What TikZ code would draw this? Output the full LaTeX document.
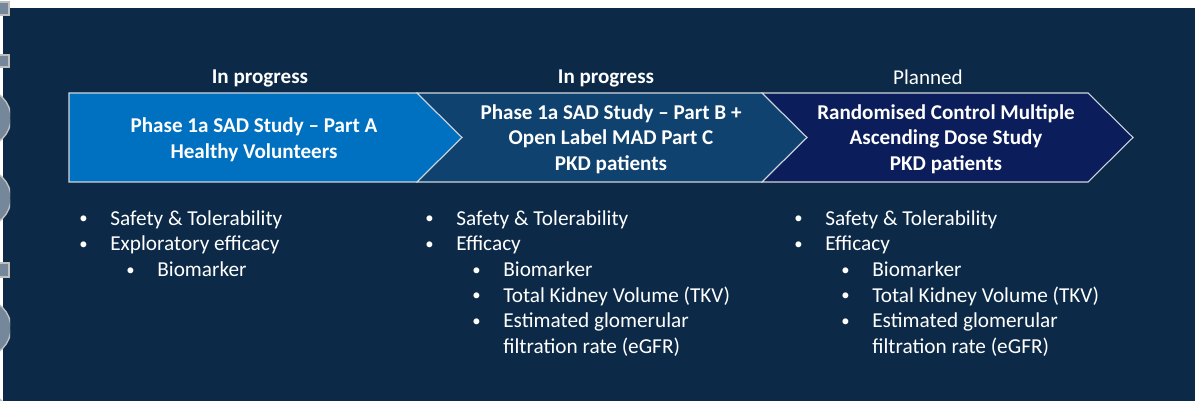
\documentclass[tikz,border=0pt]{standalone}
\usepackage{fontspec}
\setmainfont{Carlito}
\usepackage{tikz}
\usetikzlibrary{positioning}

\definecolor{slidebg}{HTML}{0C2A47}
\definecolor{phaseAfill}{HTML}{0070C0}
\definecolor{phaseBfill}{HTML}{0F426F}
\definecolor{phaseCfill}{HTML}{0B1E5B}
\definecolor{edgegray}{HTML}{D0D6DE}
\definecolor{ghost}{HTML}{75879A}

% bullet helpers
\newcommand{\bul}[1]{\makebox[0.62cm][l]{\raisebox{0.12ex}{\fontsize{9.5}{9.5}\selectfont\textbullet}}#1}
\newcommand{\subbul}[1]{\hspace*{0.94cm}\bul{#1}}
\newcommand{\subcont}[1]{\hspace*{1.56cm}#1}

\begin{document}
\begin{tikzpicture}
[x=0.02cm, y=-0.02cm,
% STYLES
% the arrow shapes of the three phases
chevron/.style={draw=edgegray, line width=0.6pt, line join=miter},
% text inside the arrows
phasetext/.style={align=center, text=white, inner sep=0pt, font=\fontsize{12}{14.6}\selectfont\bfseries},
% status above the arrows
status/.style={text=white, inner sep=0pt, font=\fontsize{12}{14.6}\selectfont},
% bullet lists below the arrows
points/.style={align=left, text=white, inner sep=0pt, anchor=north west, font=\fontsize{12.1}{14.6}\selectfont},
% screen leftovers on the left edge
leftover/.style={fill=ghost, draw=gray!50, line width=0.8pt}]

% Background
\useasboundingbox (0,0) rectangle (1195,401);
\fill[white] (0,0) rectangle (1195,401);
\fill[slidebg] (3,8) rectangle (1195,401);

% leftovers
\begin{scope}
\clip (0,0) rectangle (10,401);
\draw[leftover] (-5,2) rectangle (9,15);
\draw[leftover] (-5,55) rectangle (9,67);
\draw[leftover] (-5,263) rectangle (9,277);
\draw[leftover] (-18,118) circle (29);
\draw[leftover] (-18,198) circle (29);
\draw[leftover] (-18,328) circle (29);
\draw[leftover] (-18,422) circle (29);
\end{scope}

% Draw phases
\draw[chevron, fill=phaseAfill] (69,93) -- (417,93) -- (462,137.5) -- (417,182) -- (69,182) -- cycle;
\draw[chevron, fill=phaseBfill] (417,93) -- (762,93) -- (807,137.5) -- (762,182) -- (417,182) -- (462,137.5) -- cycle;
\draw[chevron, fill=phaseCfill] (762,93) -- (1088,93) -- (1133,137.5) -- (1088,182) -- (762,182) -- (807,137.5) -- cycle;

\node[phasetext] (partA) at (254,139.5) {Phase 1a SAD Study -- Part A\\Healthy Volunteers};
\node[phasetext] (partB) at (611,139) {Phase 1a SAD Study -- Part B +\\Open Label MAD Part C\\PKD patients};
\node[phasetext] (partC) at (946,139) {Randomised Control Multiple\\Ascending Dose Study\\PKD patients};

% status
\node[status, font=\fontsize{12}{14.6}\selectfont\bfseries] (statusA) at (260,78) {In progress};
\node[status, font=\fontsize{12}{14.6}\selectfont\bfseries] (statusB) at (606,78) {In progress};
\node[status] (statusC) at (928,77) {Planned};

%%%%%%%%%%%%%%%
% bullet lists

% partA
\node[points] (listA) at (79,210) {\bul{Safety \& Tolerability}\\
\bul{Exploratory efficacy}\\
\subbul{Biomarker}};

% partB
\node[points] (listB) at (425,210) {\bul{Safety \& Tolerability}\\
\bul{Efficacy}\\
\subbul{Biomarker}\\
\subbul{Total Kidney Volume (TKV)}\\
\subbul{Estimated glomerular}\\
\subcont{filtration rate (eGFR)}};

% partC
\node[points] (listC) at (794,210) {\bul{Safety \& Tolerability}\\
\bul{Efficacy}\\
\subbul{Biomarker}\\
\subbul{Total Kidney Volume (TKV)}\\
\subbul{Estimated glomerular}\\
\subcont{filtration rate (eGFR)}};

\end{tikzpicture}
\end{document}
